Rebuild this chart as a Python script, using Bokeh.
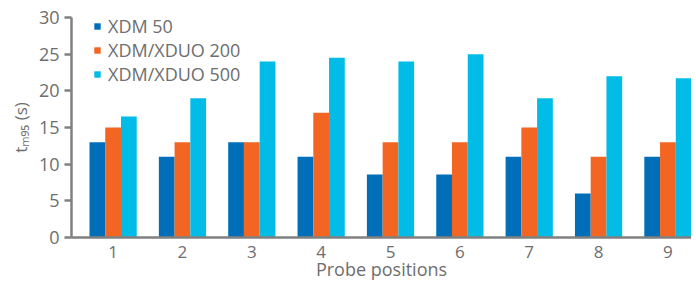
from bokeh.plotting import figure
from bokeh.models import ColumnDataSource, FixedTicker, Range1d, Legend, LegendItem
from bokeh.transform import dodge
from bokeh.embed import file_html
from bokeh.resources import INLINE

positions = [1, 2, 3, 4, 5, 6, 7, 8, 9]
series_names = ["XDM 50", "XDM/XDUO 200", "XDM/XDUO 500"]
xdm50 = [13, 11, 13, 11, 8.6, 8.6, 11, 6, 11]
xduo200 = [15, 13, 13, 17, 13, 13, 15, 11, 13]
xduo500 = [16.5, 19, 24, 24.5, 24, 25, 19, 22, 21.7]
y_ticks = [0, 5, 10, 15, 20, 25, 30]

colors = ["#006EB8", "#F26522", "#00BCE7"]
grey = "#6E6E6E"
axis_grey = "#808080"
font = "Open Sans"

src = ColumnDataSource(dict(pos=positions, a=xdm50, b=xduo200, c=xduo500))

p = figure(frame_width=620, frame_height=220, output_backend="svg", toolbar_location=None,
           x_range=Range1d(0.40, 9.34), y_range=Range1d(0, 30),
           min_border_left=71, min_border_right=0, min_border_top=17, min_border_bottom=45)
p.outline_line_color = None
p.xgrid.visible = False
p.ygrid.visible = False

w = 0.227
r1 = p.vbar(x=dodge("pos", -w, range=p.x_range), top="a", width=w, source=src,
            color=colors[0], line_color=None)
r2 = p.vbar(x=dodge("pos", 0, range=p.x_range), top="b", width=w, source=src,
            color=colors[1], line_color=None)
r3 = p.vbar(x=dodge("pos", w, range=p.x_range), top="c", width=w, source=src,
            color=colors[2], line_color=None)

legend = Legend(items=[LegendItem(label=series_names[0], renderers=[r1]),
                       LegendItem(label=series_names[1], renderers=[r2]),
                       LegendItem(label=series_names[2], renderers=[r3])])
legend.background_fill_alpha = 0
legend.border_line_color = None
legend.label_text_font = font
legend.label_text_font_size = "18px"
legend.label_text_color = grey
legend.glyph_width = 8
legend.glyph_height = 8
legend.label_standoff = 7
legend.spacing = 0
legend.label_height = 23
legend.margin = 0
legend.padding = 0
legend.location = (22, 151)
p.add_layout(legend)

p.xaxis.ticker = FixedTicker(ticks=positions)
p.yaxis.ticker = FixedTicker(ticks=y_ticks)
for ax in (p.xaxis, p.yaxis):
    ax.axis_line_color = axis_grey
    ax.axis_line_width = 2.5
    ax.major_tick_line_color = axis_grey
    ax.major_tick_line_width = 2.5
    ax.minor_tick_line_color = None
    ax.major_label_text_color = grey
    ax.major_label_text_font = font
    ax.axis_label_text_color = grey
    ax.axis_label_text_font = font
    ax.axis_label_text_font_style = "normal"

p.xaxis.major_tick_line_color = None
p.xaxis.major_tick_out = 0
p.xaxis.major_tick_in = 0
p.xaxis.major_label_text_font_size = "17px"
p.xaxis.major_label_standoff = 8
p.xaxis.axis_label = "Probe positions"
p.xaxis.axis_label_text_font_size = "18px"
p.xaxis.axis_label_standoff = -4

p.yaxis.major_tick_out = 7
p.yaxis.major_tick_in = 0
p.yaxis.major_label_text_font_size = "18px"
p.yaxis.major_label_standoff = 5
p.yaxis.axis_label = "t\u2098\u2089\u2085 (s)"
p.yaxis.axis_label_text_font_size = "17px"
p.yaxis.axis_label_standoff = 4

open("out.html", "w").write(file_html(p, INLINE))
